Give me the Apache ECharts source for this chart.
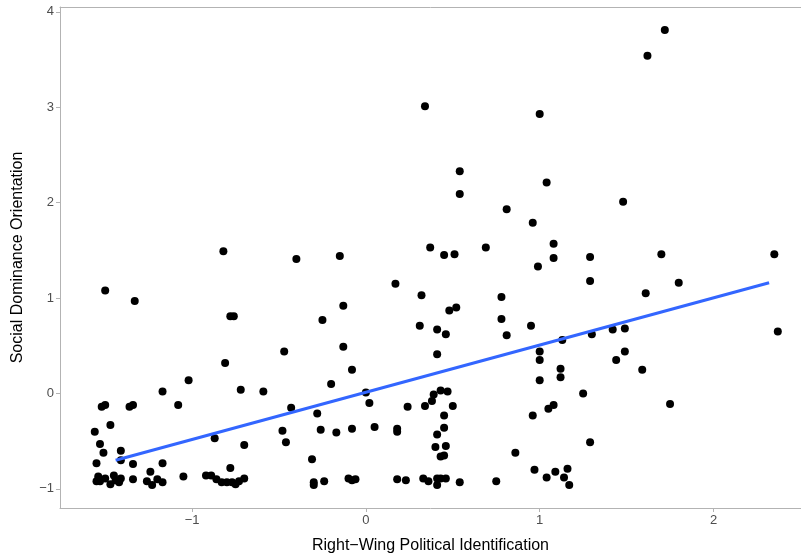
<!DOCTYPE html>
<html>
<head>
<meta charset="utf-8">
<script src="https://cdn.jsdelivr.net/npm/echarts@6/dist/echarts.min.js"></script>
<style>
  html, body { margin: 0; padding: 0; background: #ffffff; }
  #chart { width: 801px; height: 559px; }
</style>
</head>
<body>
<div id="chart"></div>
<script>
// Respondents: right-wing political identification (x) vs social dominance orientation (y)
const rwpi = [
  -0.82, -0.40, -0.15, 1.72, 1.62, 0.34, 1.00, 0.54, 0.54, 1.04,
  0.81, 0.96, 1.48, 0.37, 0.45, 0.51, 0.69, 1.08, 1.08, 0.99,
  1.29, 1.70, 2.35, 1.29, 1.80,
  -1.50, -1.33, -1.02, -1.17, -1.08, -1.52, -1.50, -1.36, -1.34, -1.47,
  -1.56, -1.53, -1.51, -1.41, -1.41, -1.55, -1.34, -1.17, -1.24,
  -1.54, -1.55, -1.53, -1.50, -1.47, -1.45, -1.44, -1.42, -1.41, -1.34,
  -1.26, -1.23, -1.20, -1.17, -1.05, -0.92, -0.89,
  -0.86, -0.83, -0.80, -0.77, -0.75, -0.73, -0.70, -0.78, -0.87, -0.70,
  -0.81, -0.78, -0.76, -0.72, -0.59, -0.47, -0.43, -0.48, -0.46, -0.31,
  -0.30, -0.30, -0.24, -0.28, -0.26, -0.25, -0.20, -0.17, -0.13, -0.13,
  -0.08, -0.08, -0.10, -0.08, -0.06, 0.00, 0.02, 0.05, 0.17, 0.18,
  0.18, 0.18,
  0.32, 0.48, 0.52, 0.78, 0.78, 0.81, 0.31, 0.41, 0.46, 0.41,
  0.43, 0.47, 0.39, 0.38, 0.34, 0.24, 0.50, 0.45, 0.45, 0.41,
  0.40, 0.46, 0.43, 0.45, 0.86, 0.23, 0.33, 0.36, 0.41, 0.41,
  0.43, 0.46, 0.54, 0.75,
  0.95, 1.00, 1.00, 1.00, 1.13, 1.12, 1.12, 1.30, 1.42, 1.49,
  1.49, 1.44, 1.59, 1.25, 1.75, 2.37, 1.05, 1.08, 0.96, 1.29,
  0.97, 1.04, 1.09, 1.16, 1.14, 1.17, 1.61
];
const sdo = [
  1.49, 1.41, 1.44, 3.81, 3.54, 3.01, 2.93, 2.33, 2.09, 2.21,
  1.93, 1.79, 2.01, 1.53, 1.45, 1.46, 1.53, 1.57, 1.42, 1.33,
  1.43, 1.46, 1.46, 1.18, 1.16,
  1.08, 0.97, 0.14, 0.02, -0.12, -0.14, -0.12, -0.14, -0.12, -0.33,
  -0.40, -0.53, -0.62, -0.60, -0.70, -0.73, -0.74, -0.73, -0.82,
  -0.87, -0.92, -0.92, -0.89, -0.95, -0.86, -0.91, -0.93, -0.89, -0.90,
  -0.92, -0.96, -0.90, -0.93, -0.87, -0.86, -0.86,
  -0.90, -0.93, -0.93, -0.93, -0.95, -0.92, -0.89, -0.78, -0.47, -0.54,
  0.32, 0.81, 0.81, 0.04, 0.02, 0.44, -0.15, -0.39, -0.51, -0.69,
  -0.93, -0.96, -0.92, -0.21, -0.38, 0.77, 0.10, -0.41, 0.92, 0.49,
  0.25, -0.37, -0.89, -0.91, -0.90, 0.01, -0.10, -0.35, 1.15, -0.37,
  -0.40, -0.90,
  1.03, 0.87, 0.90, 1.01, 0.78, 0.61, 0.71, 0.67, 0.62, 0.41,
  0.03, 0.02, -0.01, -0.08, -0.13, -0.14, -0.13, -0.23, -0.36, -0.43,
  -0.56, -0.55, -0.66, -0.65, -0.62, -0.91, -0.89, -0.92, -0.96, -0.89,
  -0.89, -0.89, -0.93, -0.92,
  0.71, 0.44, 0.35, 0.14, 0.56, 0.26, 0.17, 0.62, 0.67, 0.68,
  0.44, 0.35, 0.25, 0.00, -0.11, 0.65, -0.16, -0.12, -0.23, -0.51,
  -0.80, -0.88, -0.82, -0.79, -0.88, -0.96, 1.05
];

// Least-squares fit line, evaluated at the ends of the observed range
const fitX = [-1.44, 2.32];
const fitY = [-0.70, 1.16];

const xTicks = [-1, 0, 1, 2];
const yTicks = [-1, 0, 1, 2, 3, 4];

const points = rwpi.map((x, i) => [x, sdo[i]]);
const fitLine = fitX.map((x, i) => [x, fitY[i]]);

const fmt = v => (v < 0 ? '\u2212' + Math.abs(v) : String(v));
const FONT = '"Liberation Sans", Arial, Helvetica, sans-serif';
const FRAME = '#b3b3b3';
const X_MIN = -1.76, X_MAX = 2.5035;

const chart = echarts.init(document.getElementById('chart'), null, { renderer: 'canvas' });
chart.setOption({
  animation: false,
  backgroundColor: '#ffffff',
  grid: { left: 60, right: 0, top: 7, bottom: 50, show: false },
  xAxis: [
    {
      type: 'value', min: X_MIN, max: X_MAX,
      name: 'Right\u2212Wing Political Identification',
      nameLocation: 'middle', nameGap: 30,
      nameTextStyle: { color: '#000000', fontSize: 16, fontFamily: FONT },
      axisLine: { show: true, onZero: false, lineStyle: { color: FRAME, width: 1 } },
      splitLine: { show: false },
      axisTick: { show: true, length: 4, lineStyle: { color: FRAME }, customValues: xTicks },
      axisLabel: { color: '#4d4d4d', fontSize: 13, fontFamily: FONT, margin: 6,
        customValues: xTicks, formatter: fmt }
    },
    {
      // top edge of the panel frame
      type: 'value', position: 'top', min: X_MIN, max: X_MAX,
      axisLine: { show: true, onZero: false, lineStyle: { color: FRAME, width: 1 } },
      axisTick: { show: false }, axisLabel: { show: false }, splitLine: { show: false }
    }
  ],
  yAxis: {
    type: 'value', min: -1.2, max: 4.05,
    name: 'Social Dominance Orientation',
    nameLocation: 'middle', nameGap: 34,
    nameTextStyle: { color: '#000000', fontSize: 16, fontFamily: FONT },
    axisLine: { show: true, onZero: false, lineStyle: { color: FRAME, width: 1 } },
    splitLine: { show: false },
    axisTick: { show: true, length: 4, lineStyle: { color: FRAME }, customValues: yTicks },
    axisLabel: { color: '#4d4d4d', fontSize: 13, fontFamily: FONT, margin: 6,
      customValues: yTicks, formatter: fmt }
  },
  series: [
    {
      type: 'scatter',
      data: points,
      symbol: 'circle',
      symbolSize: 8,
      itemStyle: { color: '#000000', opacity: 1 },
      z: 2
    },
    {
      type: 'line',
      data: fitLine,
      showSymbol: false,
      lineStyle: { color: '#3366ff', width: 3 },
      z: 3
    }
  ]
});
</script>
</body>
</html>
